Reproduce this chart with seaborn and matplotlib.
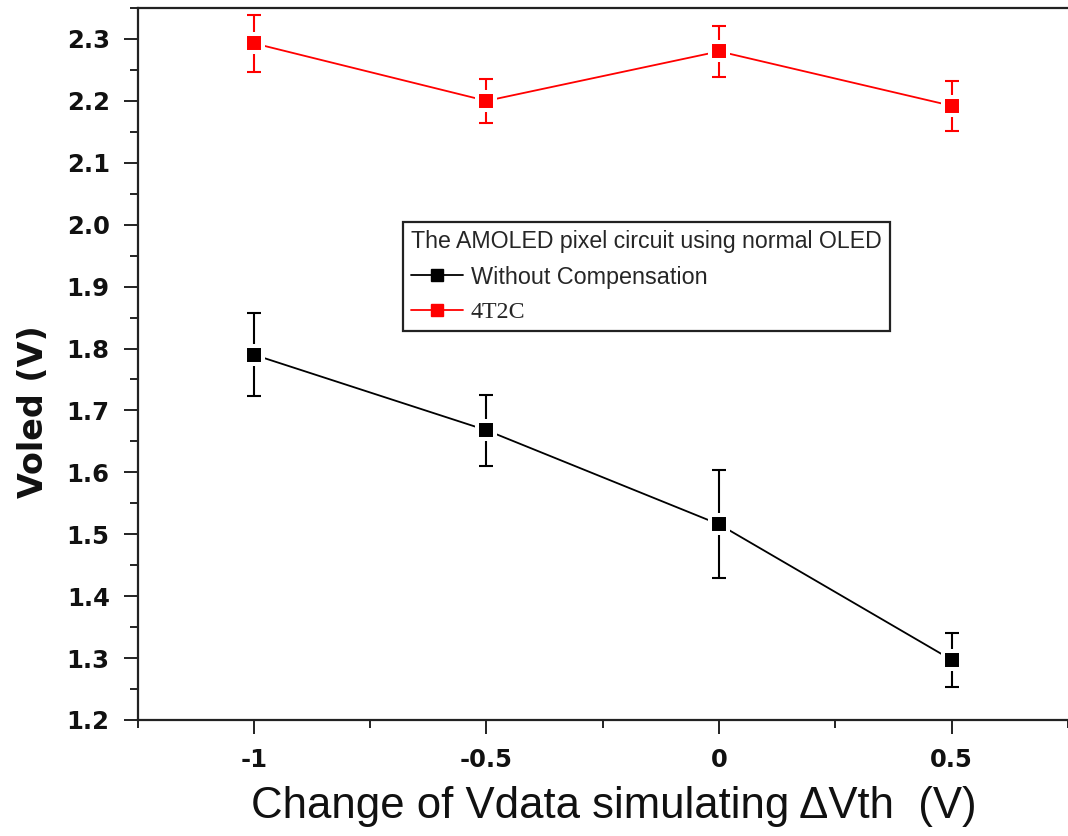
import matplotlib
matplotlib.use("Agg")
import matplotlib.pyplot as plt
from matplotlib.lines import Line2D
from matplotlib.ticker import MultipleLocator, FixedLocator, FixedFormatter
import numpy as np
import pandas as pd
import seaborn as sns

# Threshold-voltage shift emulated through Vdata (V)
delta_vth = [-1.0, -0.5, 0.0, 0.5]

# Measured OLED voltage (V) with error half-widths
voled_uncomp = [1.790, 1.668, 1.516, 1.297]
err_uncomp = [0.067, 0.057, 0.087, 0.043]
voled_4t2c = [2.293, 2.200, 2.280, 2.192]
err_4t2c = [0.046, 0.035, 0.041, 0.040]

series_names = ["Without Compensation", "4T2C"]
series_colors = ["#000000", "#FF0000"]
legend_title = "The AMOLED pixel circuit using normal OLED"

x_ticks = [-1.0, -0.5, 0.0, 0.5]
x_tick_labels = ["-1", "-0.5", "0", "0.5"]
y_ticks = [1.2, 1.3, 1.4, 1.5, 1.6, 1.7, 1.8, 1.9, 2.0, 2.1, 2.2, 2.3]

df = pd.DataFrame({
    "dvth": delta_vth * 2,
    "voled": voled_uncomp + voled_4t2c,
    "err": err_uncomp + err_4t2c,
    "series": [series_names[0]] * len(delta_vth) + [series_names[1]] * len(delta_vth),
})

sns.set_style("ticks")
plt.rcParams["font.family"] = ["Liberation Sans", "DejaVu Sans"]

fig = plt.figure(figsize=(10.68, 8.36), dpi=100)
W, H = 1068.0, 836.0
ax = fig.add_axes([137.5 / W, 116.0 / H, 930.6 / W, 712.0 / H])

palette = dict(zip(series_names, series_colors))

# error bars sit underneath the markers
for name in series_names:
    sub = df[df["series"] == name]
    ax.errorbar(sub["dvth"], sub["voled"], yerr=sub["err"], fmt="none",
                ecolor=palette[name], elinewidth=1.5, capsize=4.8,
                capthick=1.5, zorder=1.5)

sns.lineplot(data=df, x="dvth", y="voled", hue="series", palette=palette,
             hue_order=series_names, marker="s", markersize=12.4,
             markeredgecolor="white", markeredgewidth=2.9, linewidth=1.3,
             legend=False, ax=ax, zorder=2, errorbar=None, sort=False)

ax.set_xlim(-1.25, 0.75)
ax.set_ylim(1.2, 2.35)

ax.xaxis.set_major_locator(FixedLocator(x_ticks))
ax.xaxis.set_major_formatter(FixedFormatter(x_tick_labels))
ax.xaxis.set_minor_locator(MultipleLocator(0.25))
ax.yaxis.set_major_locator(FixedLocator(y_ticks))
ax.yaxis.set_minor_locator(MultipleLocator(0.05))
ax.set_yticklabels([f"{v:.1f}" for v in y_ticks])

ax.tick_params(which="major", direction="out", length=10, width=1.4,
               color="#222222", pad=10)
ax.tick_params(which="minor", direction="out", length=5.5, width=1.4,
               color="#222222")
ax.tick_params(top=False, right=False, which="both")

for lbl in ax.get_xticklabels() + ax.get_yticklabels():
    lbl.set_fontfamily("DejaVu Sans")
    lbl.set_fontweight("bold")
    lbl.set_fontsize(17.5)
    lbl.set_color("#111111")

for side in ["left", "bottom", "top"]:
    ax.spines[side].set_linewidth(1.6)
    ax.spines[side].set_color("#222222")
ax.spines["right"].set_visible(False)

ax.set_xlabel("Change of Vdata simulating \u0394Vth  (V)", fontsize=31.5,
              family=["Liberation Sans", "DejaVu Sans"], color="#111111")
ax.set_ylabel("Voled (V)", fontsize=24, fontweight="bold",
              family="DejaVu Sans", color="#111111")
ax.xaxis.set_label_coords(0.512, -0.093)
ax.yaxis.set_label_coords(-0.094, 0.433)

handles = [Line2D([], [], color=c, marker="s", markersize=8.5, linewidth=1.3)
           for c in series_colors]
leg = ax.legend(handles, series_names, title=legend_title,
                loc="upper left", bbox_to_anchor=(403 / W, 1 - 222 / H),
                bbox_transform=fig.transFigure, borderaxespad=0,
                frameon=True, fancybox=False, framealpha=1, edgecolor="#222222",
                fontsize=16.8, title_fontsize=16.7, alignment="left",
                handlelength=2.2, handletextpad=0.36, labelspacing=0.55,
                borderpad=0.35)
leg.get_frame().set_linewidth(1.6)
leg._legend_box.sep = 9
leg.get_texts()[1].set_fontfamily("Liberation Serif")
leg.get_texts()[1].set_fontsize(17.2)

fig.savefig("out.png", dpi=100)
